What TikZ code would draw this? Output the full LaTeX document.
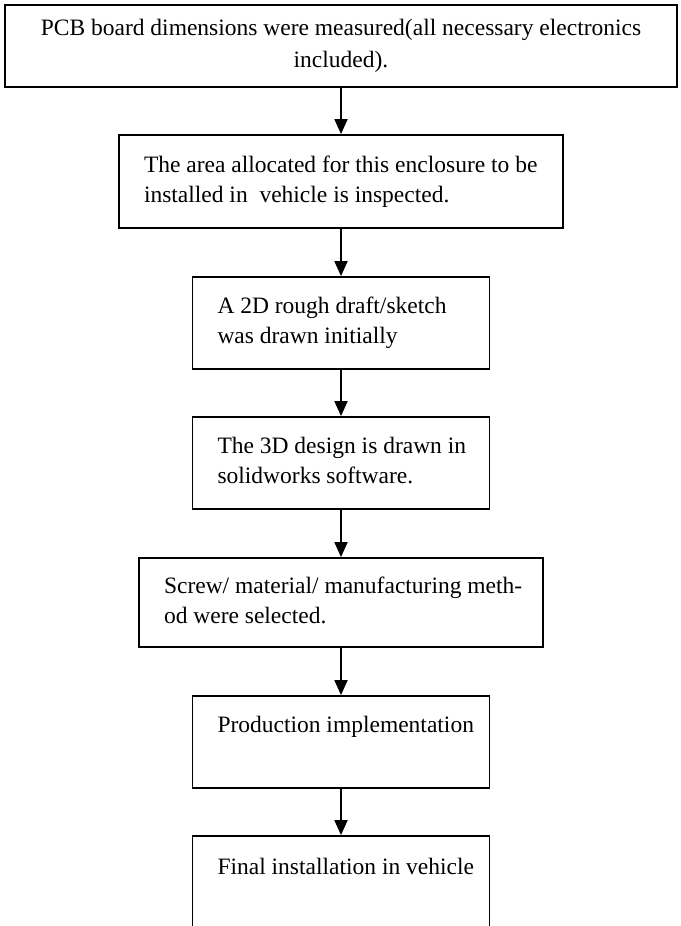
\documentclass[tikz,border=0pt]{standalone}
\usepackage{fontspec}
\setmainfont{Liberation Serif}
\usetikzlibrary{arrows.meta, positioning}

\begin{document}
\begin{tikzpicture}[->,>={Triangle[width=13pt,length=15pt]},line width=1.8pt,
 node distance=140pt,
 topbox/.style={rectangle,draw,inner sep=0pt,align=flush center,text width=672pt,
   text height=30pt,text depth=52pt,font=\fontsize{23.5}{32}\selectfont},
 stepbox/.style={rectangle,draw,inner sep=0pt,align=flush left,text width=297pt,
   text height=36pt,text depth=56pt,font=\fontsize{23.5}{30}\selectfont,
   execute at begin node={\leftskip=25pt}}]
  \useasboundingbox (0,0) rectangle (680pt,-926pt);

  \node[topbox] (measure) at (341pt,-46pt) {PCB board dimensions were measured(all necessary electronics\\included).};
  \node[stepbox, text width=444pt, text height=37pt, node distance=135.5pt] (inspect) [below of=measure] {The area allocated for this enclosure to be\\installed in~ vehicle is inspected.};
  \node[stepbox, node distance=141.5pt] (sketch) [below of=inspect] {A 2D rough draft/sketch\\was drawn initially};
  \node[stepbox] (model) [below of=sketch] {The 3D design is drawn in\\solidworks software.};
  \node[stepbox, text width=404pt, text height=35pt, text depth=54pt, node distance=139.5pt] (select) [below of=model] {Screw/ material/ manufacturing meth-\\od were selected.};
  \node[stepbox, node distance=139.5pt] (produce) [below of=select] {Production implementation};
  % last box runs off the bottom of the page
  \node[stepbox, text height=38pt, text depth=90pt, node distance=158pt] (install) [below of=produce] {Final installation in vehicle};

  \foreach \s/\t in {measure/inspect, inspect/sketch, sketch/model, model/select, select/produce, produce/install} {
   \draw (\s) -- (\t);}
\end{tikzpicture}
\end{document}
